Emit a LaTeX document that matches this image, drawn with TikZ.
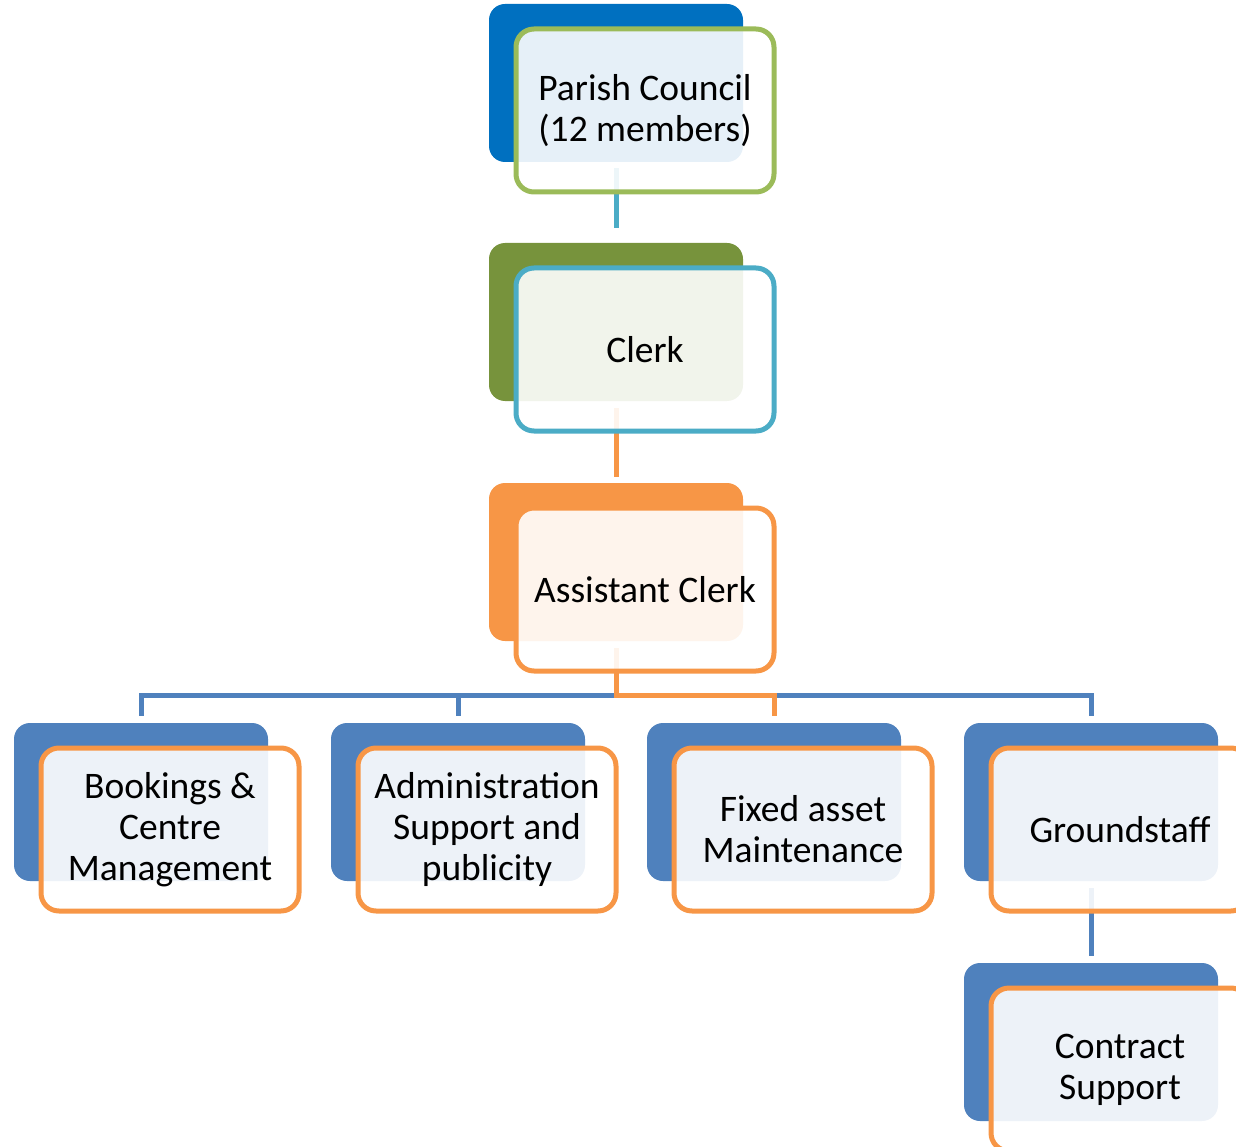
\documentclass[tikz,border=0pt]{standalone}
\usepackage{fontspec}
\setmainfont{Carlito}
\definecolor{pcblue}{HTML}{0070C0}
\definecolor{pcgreen}{HTML}{9BBB59}
\definecolor{olive}{HTML}{77933C}
\definecolor{teal}{HTML}{4BACC6}
\definecolor{orng}{HTML}{F79646}
\definecolor{steel}{HTML}{4F81BD}
\tikzset{
  backbox/.style={rectangle, rounded corners=16pt, minimum width=254pt, minimum height=158pt, inner sep=0pt, draw=none},
  frontbox/.style={rectangle, rounded corners=18pt, minimum width=258pt, minimum height=163pt, inner sep=0pt,
    fill=white, fill opacity=0.9, text opacity=1, line width=5pt, align=center,
    font=\fontsize{37.5}{41}\selectfont, xshift=29pt, yshift=-27.5pt},
  conn/.style={line width=5pt}
}
\begin{document}
\begin{tikzpicture}[x=1pt,y=-1pt]
\useasboundingbox (0,0) rectangle (1236,1147);
\clip (0,0) rectangle (1236,1147);
% back boxes
\node[backbox, fill=pcblue] (pcb) at (616,83) {};
\node[backbox, fill=olive] (clb) at (616,322) {};
\node[backbox, fill=orng] (acb) at (616,562) {};
\node[backbox, fill=steel] (bkb) at (141,802) {};
\node[backbox, fill=steel] (adb) at (458,802) {};
\node[backbox, fill=steel] (fab) at (774,802) {};
\node[backbox, fill=steel] (gsb) at (1091,802) {};
\node[backbox, fill=steel] (csb) at (1091,1042) {};
% connectors
\draw[conn, draw=teal, shorten <=6pt, shorten >=15pt] (pcb.south) -- (clb.north);
\draw[conn, draw=orng, shorten <=7pt, shorten >=6pt] (clb.south) -- (acb.north);
\draw[conn, draw=steel, shorten <=7pt, shorten >=7pt] (acb.south) -- ++(0,54) -| (bkb.north);
\draw[conn, draw=steel, shorten <=7pt, shorten >=7pt] (acb.south) -- ++(0,54) -| (adb.north);
\draw[conn, draw=steel, shorten <=7pt, shorten >=7pt] (acb.south) -- ++(0,54) -| (gsb.north);
\draw[conn, draw=orng, shorten <=7pt, shorten >=7pt] (acb.south) -- ++(0,54) -| (fab.north);
\draw[conn, draw=steel, shorten <=7pt, shorten >=7pt] (gsb.south) -- (csb.north);
% front boxes
\node[frontbox, draw=pcgreen] (pc) at (pcb.center) {Parish Council\\(12 members)};
\node[frontbox, draw=teal] (cl) at (clb.center) {Clerk};
\node[frontbox, draw=orng] (ac) at (acb.center) {Assistant Clerk};
\node[frontbox, draw=orng] (bk) at (bkb.center) {Bookings \&\\Centre\\Management};
\node[frontbox, draw=orng] (ad) at (adb.center) {Administration\\Support and\\publicity};
\node[frontbox, draw=orng] (fa) at (fab.center) {Fixed asset\\Maintenance};
\node[frontbox, draw=orng] (gs) at (gsb.center) {Groundstaff};
\node[frontbox, draw=orng] (cs) at (csb.center) {Contract\\Support};
\end{tikzpicture}
\end{document}
